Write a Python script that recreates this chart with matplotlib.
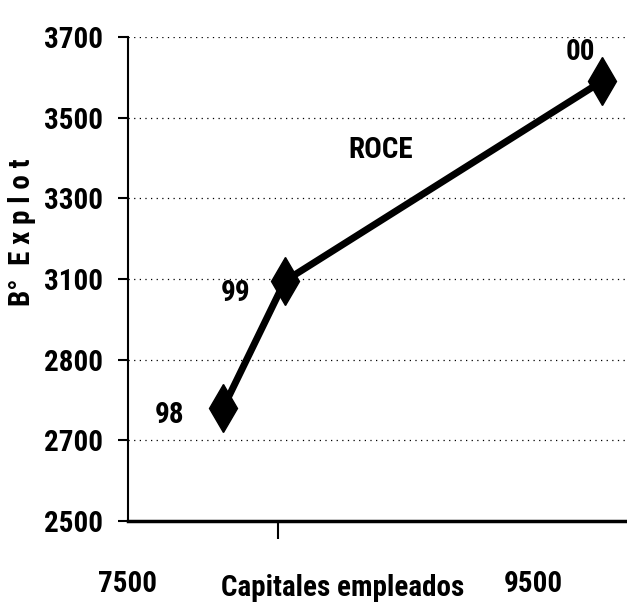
import matplotlib.pyplot as plt

# datos
anios = ["98", "99", "00"]
capitales = [7970, 8275, 9840]
beneficio = [2780, 3095, 3590]

yticks = [2500, 2700, 2900, 3100, 3300, 3500, 3700]
ytick_labels = ["2500", "2700", "2800", "3100", "3300", "3500", "3700"]
xticks = [7500, 9500]
xtick_labels = ["7500", "9500"]

plt.rcParams["font.family"] = ["Roboto Condensed", "DejaVu Sans"]
plt.rcParams["font.weight"] = "bold"

fig = plt.figure(figsize=(6.27, 6.12), dpi=100)
ax = fig.add_axes([0.2041, 0.1487, 0.7959, 0.7908])

for y in yticks[1:]:
    ax.axhline(y, color="black", lw=0.9, ls=(0, (1, 3.5)), zorder=0)

ax.plot(capitales, beneficio, color="black", lw=5, marker="d", ms=24,
        solid_capstyle="round", zorder=3)

ax.set_xlim(7500, 9965)
ax.set_ylim(2500, 3700)
ax.set_yticks(yticks)
ax.set_yticklabels(ytick_labels, fontsize=21, fontweight="bold")
ax.set_xticks(xticks)
ax.set_xticklabels(xtick_labels, fontsize=21, fontweight="bold")
ax.set_xticks([8240], minor=True)
ax.tick_params(axis="x", which="major", length=0, pad=35)
ax.tick_params(axis="x", which="minor", length=13, width=1.5)
ax.tick_params(axis="y", length=7, width=1.5, pad=11)

for s in ["top", "right"]:
    ax.spines[s].set_visible(False)
ax.spines["left"].set_linewidth(1.5)
ax.spines["bottom"].set_linewidth(2.5)

fig.text(22 / 627, 1 - 232 / 612, "B°  E x p l o t", fontsize=21, fontweight="bold",
         rotation=90, ha="center", va="center")
ax.text(8560, 2335, "Capitales empleados", fontsize=21, fontweight="bold",
        ha="center", va="center")

ax.text(7707, 2763, anios[0], fontsize=21, fontweight="bold", ha="center", va="center")
ax.text(8033, 3065, anios[1], fontsize=21, fontweight="bold", ha="center", va="center")
ax.text(9737, 3663, anios[2], fontsize=21, fontweight="bold", ha="center", va="center")
ax.text(8749, 3419, "ROCE", fontsize=21, fontweight="bold", ha="center", va="center")

fig.savefig("out.png", dpi=100)
